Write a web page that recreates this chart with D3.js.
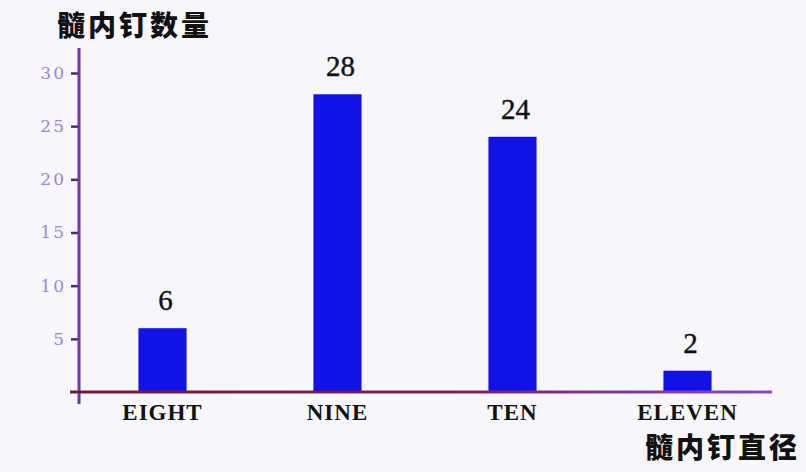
<!DOCTYPE html>
<html><head><meta charset="utf-8">
<script src="https://cdn.jsdelivr.net/npm/d3@7"></script>
<style>
html,body{margin:0;padding:0;background:#f7f6fb;}
svg{display:block;}
</style></head>
<body>
<svg id="chart" width="806" height="472"></svg>
<script>
const categories = ["EIGHT", "NINE", "TEN", "ELEVEN"];
const counts = [6, 28, 24, 2];
const yTicks = [5, 10, 15, 20, 25, 30];
const yTitle = "髓内钉数量";
const xTitle = "髓内钉直径";

const svg = d3.select("#chart");
const W = 806, H = 472;
svg.append("rect").attr("width", W).attr("height", H).attr("fill", "#f7f6fb");

const x = d3.scaleBand().domain(categories).range([75, 775]).paddingInner(0.725).paddingOuter(0.3625);
const y = d3.scaleLinear().domain([0, 30]).range([392, 73]);

// bars
svg.selectAll("rect.bar").data(counts).enter().append("rect")
  .attr("class", "bar")
  .attr("x", (d, i) => x(categories[i]))
  .attr("width", x.bandwidth())
  .attr("y", d => y(d))
  .attr("height", d => y(0) - y(d))
  .attr("fill", "#1212e6");

// value labels
svg.selectAll("text.val").data(counts).enter().append("text")
  .attr("class", "val")
  .attr("x", (d, i) => x(categories[i]) + x.bandwidth() / 2 + 3)
  .attr("y", d => y(d) - 18)
  .attr("text-anchor", "middle")
  .attr("font-family", "Liberation Serif, serif")
  .attr("font-size", 29)
  .attr("stroke", "#111").attr("stroke-width", 0.4)
  .attr("fill", "#111")
  .text(d => d);

// y axis
const yAxis = d3.axisLeft(y).tickValues(yTicks).tickSize(8).tickPadding(5);
const gy = svg.append("g").attr("transform", "translate(79,0)").call(yAxis);
gy.select(".domain").remove();
gy.selectAll(".tick line").attr("stroke", "#4a2a70").attr("stroke-width", 2.5);
gy.selectAll(".tick text").attr("font-family", "DejaVu Serif, serif")
  .attr("font-size", 17).attr("letter-spacing", 2).attr("fill", "#9a88da");
svg.append("line").attr("x1", 79).attr("x2", 79).attr("y1", 48).attr("y2", 404)
  .attr("stroke", "#7436b0").attr("stroke-width", 3);

// x axis
const xAxis = d3.axisBottom(x).tickSize(0).tickPadding(12);
const gx = svg.append("g").attr("transform", "translate(0,392)").call(xAxis);
gx.select(".domain").remove();
gx.selectAll(".tick text").attr("font-family", "Liberation Serif, serif")
  .attr("font-weight", "bold").attr("font-size", 23).attr("letter-spacing", 1).attr("fill", "#111");
const grad = svg.append("defs").append("linearGradient").attr("id", "xg")
  .attr("gradientUnits", "userSpaceOnUse")
  .attr("x1", 70).attr("x2", 772).attr("y1", 0).attr("y2", 0);
grad.append("stop").attr("offset", "0%").attr("stop-color", "#6a1e3a");
grad.append("stop").attr("offset", "55%").attr("stop-color", "#74245a");
grad.append("stop").attr("offset", "100%").attr("stop-color", "#8a4ad0");
svg.append("line").attr("x1", 70).attr("x2", 772).attr("y1", 392).attr("y2", 392)
  .attr("stroke", "url(#xg)").attr("stroke-width", 3);

// titles
svg.append("text").attr("x", 57).attr("y", 36)
  .attr("font-family", "Noto Sans CJK SC, sans-serif").attr("font-weight", 900)
  .attr("font-size", 28).attr("letter-spacing", 3).attr("fill", "#111").text(yTitle);
svg.append("text").attr("x", 800).attr("y", 458).attr("text-anchor", "end")
  .attr("font-family", "Noto Sans CJK SC, sans-serif").attr("font-weight", 900)
  .attr("font-size", 28).attr("letter-spacing", 3).attr("fill", "#111").text(xTitle);
</script>
</body></html>
